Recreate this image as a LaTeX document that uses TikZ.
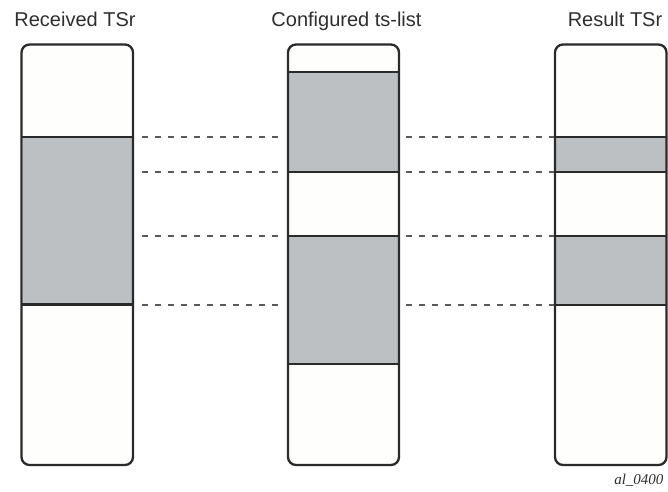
\documentclass[tikz,border=0pt]{standalone}
\usepackage{fontspec}
\setmainfont{Liberation Sans}
\newfontfamily\serifit{Liberation Serif}
\definecolor{linec}{HTML}{2A2A2A}
\definecolor{bandgray}{HTML}{BDC0C3}
\definecolor{boxwhite}{HTML}{FEFEFC}
\definecolor{dashc}{HTML}{5A5A5A}
\definecolor{textc}{HTML}{2E2E2E}
\begin{document}
\begin{tikzpicture}[x=1pt,y=-1pt,
  colbox/.style={fill=boxwhite,inner sep=0pt,outer sep=0pt,rounded corners=8pt,rectangle},
  frame/.style={draw=linec,line width=2.3pt,rounded corners=8pt},
  band/.style={fill=bandgray},
  sep/.style={draw=linec,line width=2.3pt},
  guide/.style={draw=dashc,line width=1.3pt,dash pattern=on 5.5pt off 7.5pt},
  title/.style={font=\fontsize{20}{24}\selectfont,text=textc,anchor=base}]
\useasboundingbox (0,0) rectangle (668,491);
% titles
\node[title] (t1) at (75,26) {Received TSr};
\node[title] (t2) at (346.5,26) {Configured ts-list};
\node[title] (t3) at (615,26) {Result TSr};
% columns
\node[colbox,minimum width=111.5pt,minimum height=420.5pt] (c1) at (77.25,254.75) {};
\node[colbox,minimum width=111pt,minimum height=420.5pt] (c2) at (343.5,254.75) {};
\node[colbox,minimum width=111.5pt,minimum height=420.5pt] (c3) at (610.75,254.75) {};
% bands column 1
\fill[band] ([xshift=1pt]c1.west |- 0,137) rectangle ([xshift=-1pt]c1.east |- 0,304.5);
\draw[sep] (c1.west |- 0,137) -- (c1.east |- 0,137);
\draw[sep] (c1.west |- 0,304.5) -- (c1.east |- 0,304.5);
% bands column 2
\fill[band] ([xshift=1pt]c2.west |- 0,72) rectangle ([xshift=-1pt]c2.east |- 0,172);
\fill[band] ([xshift=1pt]c2.west |- 0,236) rectangle ([xshift=-1pt]c2.east |- 0,364);
\foreach \yy in {72,172,236,364}
  \draw[sep] (c2.west |- 0,\yy) -- (c2.east |- 0,\yy);
% bands column 3
\fill[band] ([xshift=1pt]c3.west |- 0,137) rectangle ([xshift=-1pt]c3.east |- 0,172);
\fill[band] ([xshift=1pt]c3.west |- 0,236) rectangle ([xshift=-1pt]c3.east |- 0,305);
\foreach \yy in {137,172,236,305}
  \draw[sep] (c3.west |- 0,\yy) -- (c3.east |- 0,\yy);
% frames
\draw[frame] (c1.north west) rectangle (c1.south east);
\draw[frame] (c2.north west) rectangle (c2.south east);
\draw[frame] (c3.north west) rectangle (c3.south east);
% guide lines
\foreach \yy [count=\i] in {137,172,236,305} {
  \coordinate (la\i) at (142,\yy);
  \coordinate (lb\i) at (281,\yy);
  \coordinate (ra\i) at (406,\yy);
  \coordinate (rb\i) at (554,\yy);
  \draw[guide] (la\i) -- (lb\i);
  \draw[guide] (ra\i) -- (rb\i);
}
% figure id
\node[font=\serifit\itshape\fontsize{15}{17}\selectfont,text=textc,anchor=base east] (id) at (667,484) {al\_0400};
\end{tikzpicture}
\end{document}
